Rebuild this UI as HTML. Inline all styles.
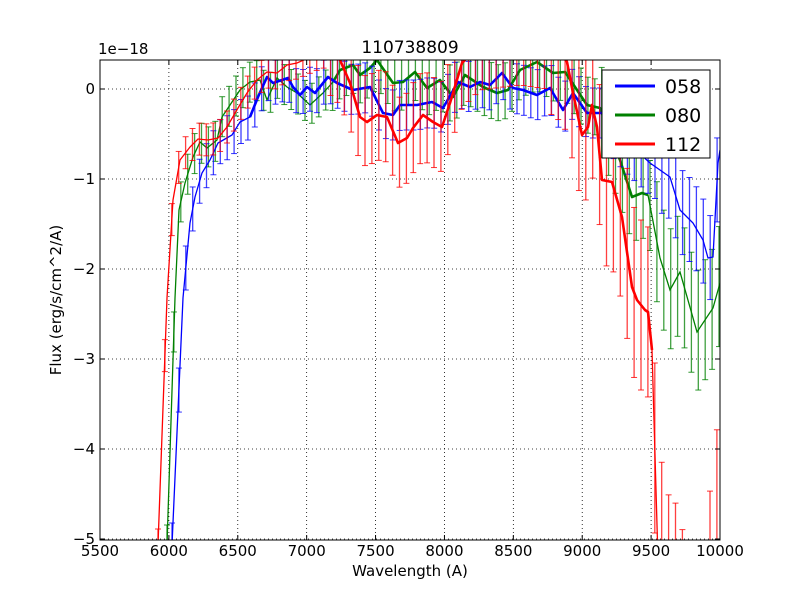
<!DOCTYPE html>
<html><head><meta charset="utf-8"><style>
html,body{margin:0;padding:0;background:#fff;width:800px;height:600px;overflow:hidden;}
svg{display:block;font-family:"DejaVu Sans","Liberation Sans",sans-serif;}
</style></head><body>
<svg id="s" width="800" height="600" xmlns="http://www.w3.org/2000/svg">
<rect width="800" height="600" fill="#fff"/>
<defs><clipPath id="c"><rect x="100" y="60" width="620" height="480"/></clipPath></defs>
<g id="grid" stroke="#000" stroke-width="0.8" stroke-dasharray="1,3"></g>
<g id="data" clip-path="url(#c)"></g>
<rect x="100" y="60" width="620" height="480" fill="none" stroke="#000" stroke-width="1"/>
<g id="ticks" stroke="#000" stroke-width="1"></g>
<g id="labels" font-size="15" fill="#000"></g>
<text x="410" y="53" font-size="17" text-anchor="middle">110738809</text>
<text x="98" y="54" font-size="15">1e−18</text>
<text x="410" y="576" font-size="15" text-anchor="middle">Wavelength (A)</text>
<text transform="translate(61,300) rotate(-90)" font-size="15" text-anchor="middle">Flux (erg/s/cm^2/A)</text>
<g>
<rect x="602" y="70" width="108" height="88" fill="#fff" stroke="#000" stroke-width="1"/>
<line x1="615" y1="86" x2="655" y2="86" stroke="#0000ff" stroke-width="3"/>
<line x1="615" y1="115" x2="655" y2="115" stroke="#008000" stroke-width="3"/>
<line x1="615" y1="144" x2="655" y2="144" stroke="#ff0000" stroke-width="3"/>
<text x="665" y="93" font-size="19">058</text>
<text x="665" y="122" font-size="19">080</text>
<text x="665" y="151" font-size="19">112</text>
</g>
</svg>
<script>
var NS="http://www.w3.org/2000/svg";
function el(p,t,a,txt){var e=document.createElementNS(NS,t);for(var k in a)e.setAttribute(k,a[k]);if(txt!==undefined)e.textContent=txt;p.appendChild(e);return e;}
function cl(v){return Math.max(30,Math.min(570,v));}
var grid=document.getElementById('grid'),ticks=document.getElementById('ticks'),labels=document.getElementById('labels'),data=document.getElementById('data');
for(var i=0;i<=9;i++){var x=100+i*620/9;var v=5500+i*500;
 if(i>0&&i<9)el(grid,'line',{x1:x,y1:60,x2:x,y2:540});
 el(ticks,'line',{x1:x,y1:540,x2:x,y2:535});el(ticks,'line',{x1:x,y1:60,x2:x,y2:65});
 el(labels,'text',{x:x,y:556,'text-anchor':'middle'},v);}
for(var j=0;j<=5;j++){var y=89+j*90;
 el(grid,'line',{x1:100,y1:y,x2:720,y2:y});
 el(ticks,'line',{x1:100,y1:y,x2:105,y2:y});el(ticks,'line',{x1:720,y1:y,x2:715,y2:y});
 el(labels,'text',{x:95,y:y+5,'text-anchor':'end'},j==0?'0':'−'+j);}
function interp(p,x){for(var i=0;i<p.length-1;i++){if(x>=p[i][0]&&x<=p[i+1][0]){var t=(x-p[i][0])/((p[i+1][0]-p[i][0])||1);return p[i][1]+t*(p[i+1][1]-p[i][1]);}}return null;}
function draw(col,pts,err,thick){
 var g=el(data,'g',{});
 var x0=pts[0][0],x1=pts[pts.length-1][0];
 for(var x=x0;x<=x1;x+=6.9){var y=interp(pts,x);if(y===null)continue;var e=err(x);
  var a=y-e,b=y+e;
  el(g,'line',{x1:x,y1:cl(a),x2:x,y2:cl(b),stroke:col,'stroke-width':1.3,opacity:0.75});
  if(a>30&&a<570)el(g,'line',{x1:x-3,y1:a,x2:x+3,y2:a,stroke:col,'stroke-width':1,opacity:0.8});
  if(b>30&&b<570)el(g,'line',{x1:x-3,y1:b,x2:x+3,y2:b,stroke:col,'stroke-width':1,opacity:0.8});}
 var d='';pts.forEach(function(p,i){d+=(i?'L':'M')+p[0]+','+cl(p[1]);});
 el(g,'path',{d:d,fill:'none',stroke:col,'stroke-width':1.3});
 var dt='',started=false;pts.forEach(function(p){if(p[0]>=thick[0]&&p[0]<=thick[1]){dt+=(started?'L':'M')+p[0]+','+cl(p[1]);started=true;}});
 el(g,'path',{d:dt,fill:'none',stroke:col,'stroke-width':2.6,'stroke-linejoin':'round'});
}
var green=[[167,545],[175,298],[179,210],[185,183],[193,157],[200,142],[207,148],[217,140],[222,117],[230,105],[240,90],[250,82],[260,80],[267,100],[277,78],[287,87],[297,93],[310,105],[323,93],[333,82],[340,70],[353,65],[360,75],[370,68],[377,60],[393,83],[403,82],[415,72],[427,88],[440,80],[453,97],[465,75],[483,87],[497,93],[508,90],[520,70],[537,62],[553,73],[565,72],[577,90],[587,105],[600,108],[620,160],[632,197],[642,193],[648,195],[660,258],[670,290],[680,272],[697,332],[713,308],[720,283]];
var blue=[[172,545],[183,298],[190,223],[195,197],[202,173],[210,160],[218,143],[225,139],[232,135],[240,122],[250,117],[258,97],[267,77],[273,83],[288,78],[293,87],[300,95],[307,87],[315,93],[328,77],[337,83],[353,90],[370,87],[383,113],[393,115],[400,105],[417,105],[432,102],[443,108],[458,82],[470,87],[480,82],[490,85],[502,73],[513,88],[523,90],[537,95],[550,88],[563,110],[573,93],[587,113],[602,113],[625,140],[650,163],[670,177],[680,210],[693,223],[703,240],[708,258],[713,257],[718,163],[720,150]];
var red=[[158,545],[167,298],[173,200],[180,160],[190,147],[198,139],[208,140],[218,138],[227,127],[238,108],[247,93],[257,80],[267,72],[277,73],[287,65],[297,63],[315,55],[330,50],[340,60],[350,83],[360,117],[367,122],[377,115],[387,117],[398,143],[407,138],[413,128],[423,115],[433,122],[442,127],[450,103],[462,63],[480,45],[520,40],[555,45],[567,62],[573,93],[582,135],[588,127],[592,105],[597,127],[602,180],[612,182],[622,217],[632,287],[637,300],[645,310],[648,312],[652,350],[658,560],[665,640],[672,630],[680,660],[690,700],[700,720],[718,560]];
draw('#008000',green,function(x){return x<330?20:(x<600?28:(x<650?45:60));},[330,648]);
draw('#0000ff',blue,function(x){return x<330?22:(x<600?25:(x<660?32:42));},[250,602]);
draw('#ff0000',red,function(x){return x<330?16:(x<550?45:(x<600?70:(x<655?85:140)));},[330,652]);
</script>
</body></html>
